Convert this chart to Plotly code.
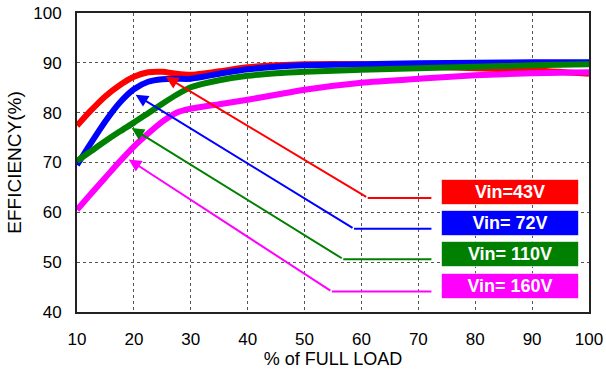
import plotly.graph_objects as go

load = [10, 12.5, 15, 17.5, 20, 22.5, 25, 27.5, 30, 35, 40, 45, 50, 60, 70, 80, 90, 100]
eff_43 = [77.4, 80.5, 83.3, 85.5, 87.2, 88.1, 88.2, 87.8, 87.6, 88.3, 89.1, 89.5, 89.7, 89.7, 89.3, 88.9, 88.5, 87.8]
eff_72 = [69.5, 74.0, 78.3, 82.0, 84.7, 86.2, 86.7, 86.8, 86.8, 87.8, 88.7, 89.2, 89.5, 89.7, 89.9, 90.0, 90.1, 90.1]
eff_110 = [70.3, 72.3, 74.3, 76.2, 78.0, 79.9, 81.8, 83.6, 85.1, 86.5, 87.4, 87.9, 88.2, 88.6, 88.9, 89.2, 89.5, 89.7]
eff_160 = [60.5, 63.8, 67.0, 70.2, 73.2, 75.8, 78.2, 80.0, 80.8, 81.7, 82.6, 83.6, 84.6, 86.0, 86.8, 87.5, 87.9, 88.1]

labels = ["Vin=43V", "Vin= 72V", "Vin= 110V", "Vin= 160V"]
colors = ["#ff0000", "#0000ff", "#008000", "#ff00ff"]
series = [eff_43, eff_72, eff_110, eff_160]

# callout leader lines: arrow tip on curve, elbow, end of horizontal run
tip_x = [25.6, 20.3, 19.6, 19.1]
tip_y = [87.2, 83.6, 76.9, 70.6]
elbow_x = [61.1, 58.7, 56.8, 54.8]
elbow_y = [62.9, 56.7, 50.6, 44.1]
run_end_x = [72.3, 72.3, 72.3, 72.3]
label_x = [86.1, 86.1, 86.1, 86.1]
label_y = [64.0, 57.8, 51.6, 45.2]

x_ticks = [10, 20, 30, 40, 50, 60, 70, 80, 90, 100]
y_ticks = [40, 50, 60, 70, 80, 90, 100]

FONT = "Liberation Sans, Arial"

fig = go.Figure()
for name, ys, c in zip(labels, series, colors):
    fig.add_trace(go.Scatter(x=load, y=ys, mode="lines", name=name,
                             line=dict(color=c, width=6, shape="spline", smoothing=0.6),
                             showlegend=False, hoverinfo="skip"))

for i, c in enumerate(colors):
    fig.add_trace(go.Scatter(x=[elbow_x[i], run_end_x[i]], y=[elbow_y[i], elbow_y[i]],
                             mode="lines", line=dict(color=c, width=2),
                             showlegend=False, hoverinfo="skip"))
    fig.add_annotation(x=tip_x[i], y=tip_y[i], ax=elbow_x[i], ay=elbow_y[i],
                       xref="x", yref="y", axref="x", ayref="y", text="",
                       showarrow=True, arrowhead=2, arrowsize=1.25, arrowwidth=2,
                       arrowcolor=c, standoff=0)
    fig.add_annotation(x=label_x[i], y=label_y[i], xref="x", yref="y",
                       text="<b>" + labels[i] + "</b>", showarrow=False,
                       font=dict(family=FONT, size=18, color="white"),
                       bgcolor=c, bordercolor="rgba(255,255,255,0.6)", borderwidth=1,
                       width=134, height=22, align="center")

axis_common = dict(showgrid=True, gridcolor="#555555", griddash="dot", gridwidth=1,
                   zeroline=False, showline=True, linecolor="#222222", linewidth=2,
                   mirror=True, ticks="outside", tickcolor="rgba(0,0,0,0)",
                   automargin=False,
                   tickfont=dict(family=FONT, size=17, color="black"))

fig.update_xaxes(range=[10, 100], tickvals=x_ticks, ticklen=11,
                 title=dict(text="% of FULL LOAD", standoff=2,
                            font=dict(family=FONT, size=18, color="black")),
                 **axis_common)
fig.update_yaxes(range=[40, 100], tickvals=y_ticks, ticklen=10,
                 title=dict(text="EFFICIENCY(%)", standoff=7,
                            font=dict(family=FONT, size=19, color="black")),
                 **axis_common)

fig.update_layout(width=606, height=372, margin=dict(l=77, r=17, t=13, b=60),
                  plot_bgcolor="white", paper_bgcolor="white")

fig.write_html("out.html", config={"displayModeBar": False},
               post_script="document.body.style.margin='0';")
